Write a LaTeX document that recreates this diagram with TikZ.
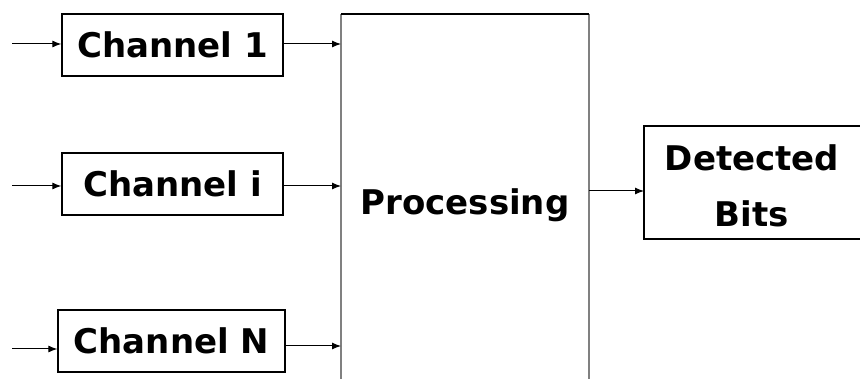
\documentclass[tikz,border=0pt]{standalone}
\usepackage{fontspec}
\setmainfont{DejaVu Sans}
\usetikzlibrary{arrows.meta}
\begin{document}
\begin{tikzpicture}[x=1pt,y=-1pt,
  chan/.style={draw, line width=1.3pt, minimum width=221pt, minimum height=62pt, inner sep=0pt, font=\bfseries\fontsize{34}{40}\selectfont},
  lbl/.style={font=\bfseries\fontsize{34}{56}\selectfont, align=center},
  arr/.style={-{Latex[length=9pt,width=7pt]}, line width=1pt}]
\useasboundingbox (0,0) rectangle (860,379);
\clip (0,0) rectangle (860,379);
% channel boxes
\node[chan] (c1) at (172.5,45) {Channel 1};
\node[chan] (ci) at (172.5,184) {Channel i};
\node[chan, minimum width=227pt] (cN) at (171.5,341) {Channel N};
% processing box (bottom cut off)
\coordinate (pTL) at (341,14);
\coordinate (pTR) at (589,14);
\coordinate (pBL) at (341,385);
\coordinate (pBR) at (589,385);
\draw[black!50, line width=2.2pt] (pBL) -- (pTL);
\draw[black!50, line width=2.2pt] (pBR) -- (pTR);
\draw[line width=1.3pt] (pTL) -- (pTR);
\node[lbl] (proc) at (465,205) {Processing};
% detected bits box (right side cut off)
\coordinate (dTL) at (644,126);
\coordinate (dBL) at (644,239);
\coordinate (dTR) at (870,126);
\coordinate (dBR) at (870,239);
\draw[line width=1.3pt] (dTR) -- (dTL) -- (dBL) -- (dBR);
\node[lbl] (det) at (752,186) {Detected\\Bits};
% arrow end points
\coordinate (i1) at (12,44);
\coordinate (ii) at (12,186);
\coordinate (iN) at (12,349);
\coordinate (o1) at (341,44);
\coordinate (oi) at (341,186);
\coordinate (oN) at (341,346);
\coordinate (pout) at (589,191);
\coordinate (din) at (644,191);
\draw[arr] (i1) -- (i1 -| c1.west);
\draw[arr] (ii) -- (ii -| ci.west);
\draw[arr] (iN) -- (iN -| cN.west);
\draw[arr] (o1 -| c1.east) -- (o1);
\draw[arr] (oi -| ci.east) -- (oi);
\draw[arr] (oN -| cN.east) -- (oN);
\draw[arr] (pout) -- (din);
\end{tikzpicture}
\end{document}
